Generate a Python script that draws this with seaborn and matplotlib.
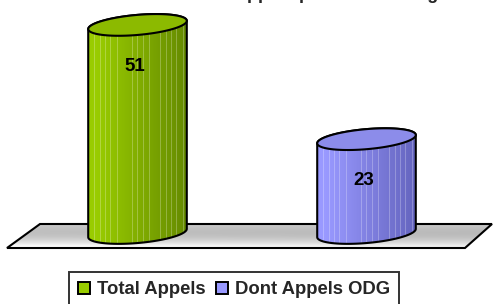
import numpy as np
import pandas as pd
import matplotlib
matplotlib.use("Agg")
import matplotlib.pyplot as plt
import seaborn as sns
from matplotlib.patches import Polygon, Patch

# ---- data ----
categories = ["Total Appels", "Dont Appels ODG"]
values = [51, 23]
colors = ["#99CC00", "#9999FF"]
side_dark = ["#658A00", "#6464BE"]
top_colors = ["#8CBA00", "#8C8CEA"]
title = "Appels par tranche d'âge"

sns.set_theme(style="white")
plt.rcParams['font.family'] = ['Liberation Sans', 'DejaVu Sans']

W, H = 493, 304
fig = plt.figure(figsize=(W / 100, H / 100), dpi=100)
ax = fig.add_axes([0, 0, 1, 1])
df = pd.DataFrame({"cat": categories, "val": values})
sns.barplot(data=df, x="cat", y="val", hue="cat", palette=colors, width=0.432,
            legend=False, ax=ax, saturation=1)
bars = list(ax.patches)

X0, XS, Y0, YS = 137.5, 229.0, 233.0, 4.08


def p2d(px, py):
    return (np.asarray(px) - X0) / XS, (Y0 - np.asarray(py)) / YS


LW = 1.5

# ---- floor ----
fx, fy = p2d([40, 492, 465, 7], [224, 224, 248, 248])
floor = Polygon(np.column_stack([fx, fy]), closed=True, facecolor="none",
                edgecolor="black", lw=LW, zorder=2)
ax.add_patch(floor)
gy = np.linspace(0, 1, 40)[:, None]
gx = np.linspace(0, 1, 120)[None, :]
shade = 0.80 - 0.12 * np.sin(np.pi * gy) + 0.18 * gy ** 1.5 + 0.06 * (1 - gx) * gy
shade = np.clip(shade, 0, 1)
floor_img = np.repeat(shade[:, :, None], 3, axis=2)
im = ax.imshow(floor_img, extent=[fx.min(), fx.max(), fy.min(), fy.max()],
               aspect="auto", origin="upper", zorder=1, interpolation="bilinear")
im.set_clip_path(floor)

# ---- cylinders ----
stripes = [7, 13, 18, 23, 29, 44, 49, 55, 61, 72, 77, 82, 87, 94]
theta = np.deg2rad(5)
b = 10.0
for i, p in enumerate(bars):
    p.set_visible(False)
    x, w, h = p.get_x(), p.get_width(), p.get_height()
    cx = X0 + (x + w / 2) * XS
    a = w * XS / 2
    top_py = Y0 - h * YS

    def ell(cy, t):
        ex = cx + a * np.cos(t) * np.cos(theta) - b * np.sin(t) * np.sin(theta)
        ey = cy - (a * np.cos(t) * np.sin(theta) + b * np.sin(t) * np.cos(theta))
        return ex, ey

    t0 = np.arctan(-(b / a) * np.tan(theta))
    tu = np.linspace(t0, t0 + np.pi, 80)
    tl = np.linspace(t0 + np.pi, t0 + 2 * np.pi, 80)
    ux, uy = ell(top_py, tu)
    lx, ly = ell(Y0, tl)
    hx, hy = p2d(np.concatenate([ux, lx]), np.concatenate([uy, ly]))
    body = Polygon(np.column_stack([hx, hy]), closed=True, facecolor="none",
                   edgecolor="black", lw=LW, zorder=4)
    ax.add_patch(body)

    N = 99
    c1 = np.array(matplotlib.colors.to_rgb(colors[i]))
    c2 = np.array(matplotlib.colors.to_rgb(side_dark[i]))
    f = np.linspace(0, 1, N)[:, None]
    f = np.clip(f - 0.1, 0, 1) / 0.9
    row = c1 * (1 - f) + c2 * f
    for s in stripes:
        row[s] = row[s] * 0.75 + 0.25
    img = row[None, :, :]
    x_l, _ = p2d(np.min(hx * XS + X0) - 1, 0)
    x_r, _ = p2d(np.max(hx * XS + X0) + 1, 0)
    bim = ax.imshow(img, extent=[x_l, x_r, hy.min(), hy.max()], aspect="auto",
                    zorder=3, interpolation="nearest")
    bim.set_clip_path(body)

    tt = np.linspace(0, 2 * np.pi, 160)
    ex, ey = ell(top_py, tt)
    tx, ty = p2d(ex, ey)
    top = Polygon(np.column_stack([tx, ty]), closed=True, facecolor=top_colors[i],
                  edgecolor="black", lw=LW, zorder=5)
    ax.add_patch(top)

    ax.annotate(f"{values[i]}", xy=(x + w / 2, h), xytext=(-2, -30),
                textcoords="offset points", ha="center", va="center",
                fontsize=13.5, fontweight="bold", color="black", zorder=6)

ax.set_xlim(-X0 / XS, (W - X0) / XS)
ax.set_ylim(-(H - Y0) / YS, Y0 / YS)
ax.axis("off")

# ---- legend ----
handles = [Patch(facecolor=c, edgecolor="black", lw=1.4) for c in colors]
leg = fig.legend(handles, categories, loc="upper left",
                 bbox_to_anchor=(69 / W, 1 - 272 / H), ncol=2, frameon=True,
                 fancybox=False, edgecolor="black",
                 prop=dict(weight="bold", size=13.3), handlelength=0.65,
                 handleheight=0.65, handletextpad=0.35, columnspacing=0.6,
                 borderpad=0.5, borderaxespad=0)
leg.get_frame().set_linewidth(1.4)

fig.text(234 / W, 1 + 1.0 / H, title, ha="left", va="baseline",
         fontsize=13, fontweight="bold")

fig.savefig("out.png", dpi=100)
